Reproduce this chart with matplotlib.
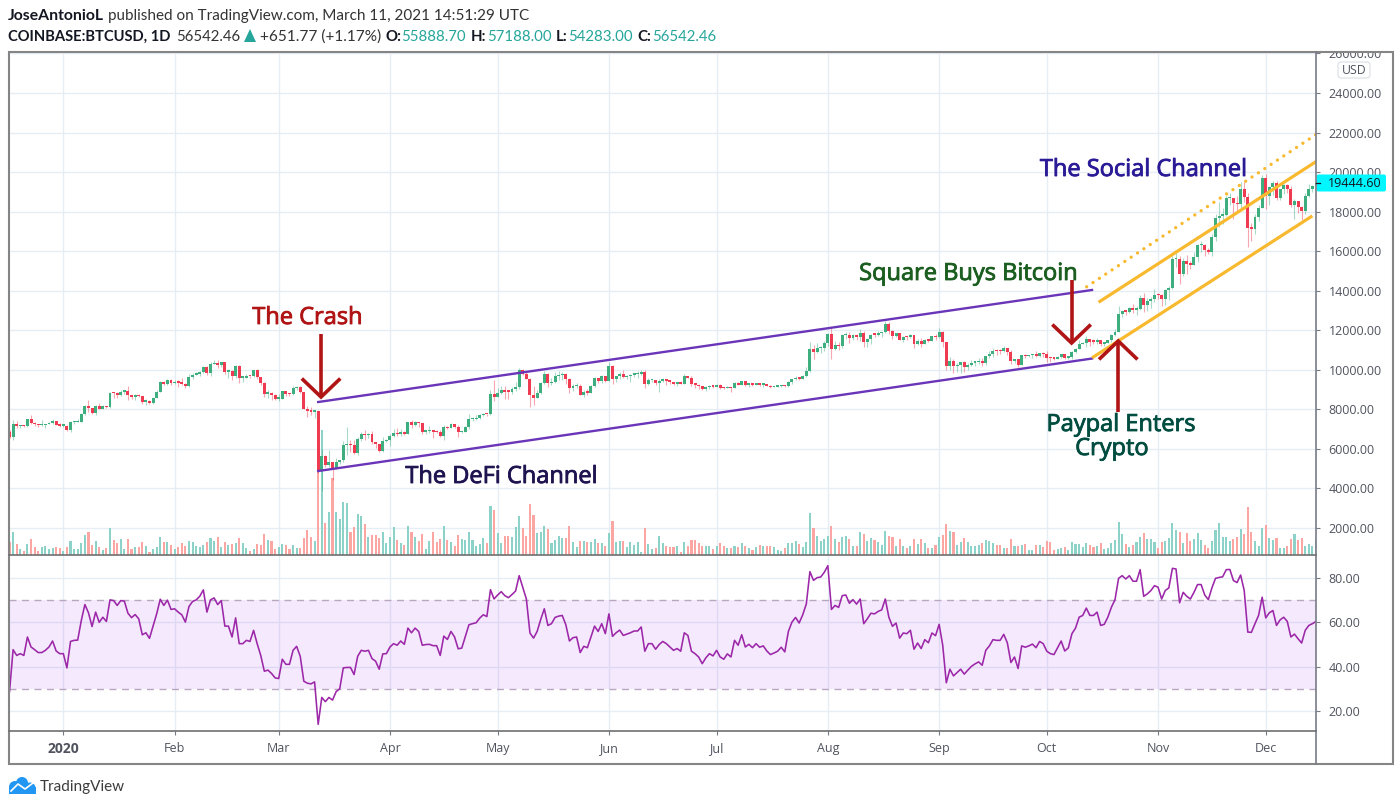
import matplotlib
matplotlib.use('Agg')
import matplotlib.pyplot as plt
import matplotlib.patheffects as pe
from matplotlib.patches import Rectangle, FancyBboxPatch, Circle, Polygon
import numpy as np

W, H = 1400, 807

# daily closes, 17 Dec 2019 to 15 Dec 2020
first_open = 6870
closes = [
    6610, 7280, 7150, 7190, 7145, 7510, 7320, 7255, 7195, 7200, 7250, 7310, 7385, 7220, 7170,
    7175, 6950, 7340, 7355, 7355, 7760, 8155, 8045, 7815, 8190, 8020, 8180, 8110, 8815, 8810, 8715, 8900, 8910, 8700, 8630, 8725, 8660, 8385, 8435, 8330, 8595, 8895, 9390, 9285, 9500, 9330,
    9375, 9335, 9290, 9185, 9615, 9760, 9805, 9905, 10165, 9855, 10275, 10355, 10240, 10370, 9900, 9915, 9705, 10180, 9600, 9610, 9690, 9665, 9965, 9660, 9310, 8785, 8825, 8720, 8525,
    8525, 8910, 8760, 8755, 9065, 9155, 8900, 8035, 7935, 7890, 7935, 4860, 5625, 5170, 5350, 5030, 5330, 5415, 6190, 6190, 6185, 5815, 6480, 6770, 6690, 6760, 6370, 6250, 5880, 6395, 6430,
    6650, 6805, 6735, 6860, 6770, 7340, 7200, 7370, 7295, 6865, 6890, 6910, 6855, 6845, 6630, 7115, 7040, 7260, 7130, 6840, 6860, 7130, 7490, 7510, 7540, 7700, 7775, 7740, 8775, 8625,
    8830, 8970, 8895, 8890, 9030, 9155, 9985, 9810, 9540, 8725, 8565, 8820, 9310, 9795, 9315, 9380, 9670, 9730, 9775, 9515, 9060, 9170, 9180, 8735, 8895, 8840, 9205, 9575, 9430, 9700, 9450,
    10200, 9520, 9665, 9790, 9615, 9670, 9750, 9780, 9785, 9890, 9275, 9465, 9475, 9330, 9430, 9525, 9455, 9385, 9300, 9355, 9295, 9685, 9610, 9290, 9245, 9160, 9010, 9115, 9185, 9135,
    9235, 9090, 9060, 9135, 9070, 9345, 9250, 9430, 9235, 9285, 9235, 9305, 9240, 9255, 9195, 9130, 9155, 9175, 9210, 9160, 9390, 9525, 9610, 9550, 9710, 9935, 11030, 10910, 11100, 11110, 11350,
    11810, 11065, 11230, 11190, 11745, 11770, 11600, 11760, 11680, 11880, 11395, 11565, 11785, 11770, 11860, 11915, 12300, 11960, 11730, 11860, 11525, 11680, 11650, 11755, 11330, 11465, 11325, 11530, 11475, 11710, 11655,
    11925, 11390, 10170, 10470, 10170, 10255, 10370, 10130, 10225, 10345, 10395, 10445, 10325, 10680, 10790, 10975, 10945, 10935, 11085, 10920, 10420, 10535, 10240, 10735, 10690, 10730, 10775, 10690, 10840, 10780,
    10620, 10575, 10550, 10670, 10790, 10600, 10670, 10925, 11055, 11295, 11380, 11540, 11430, 11425, 11505, 11325, 11370, 11515, 11750, 11910, 12820, 12985, 12935, 13115, 13030, 13070, 13650, 13280, 13460, 13565, 13805,
    13760, 13565, 14030, 14150, 15590, 15590, 14840, 15480, 15335, 15310, 15700, 16300, 16335, 16070, 15960, 16725, 17680, 17800, 17815, 18680, 18710, 18420, 18370, 19160, 18730, 17150, 17140, 17720, 18180, 19700,
    18770, 19225, 19445, 18700, 19150, 19360, 19170, 18325, 18550, 18250, 18035, 18810, 19170, 19275, 19444.6,
]
highs = [
    6940, 7440, 7390, 7230, 7190, 7530, 7700, 7340, 7270, 7450, 7270, 7370, 7520, 7390, 7320,
    7250, 7210, 7410, 7400, 7500, 7790, 8210, 8460, 8030, 8200, 8300, 8200, 8190, 8890, 8900, 8890, 9000, 8990, 9200, 8740, 8770, 8790, 8670, 8520, 8460, 8600, 8980, 9420, 9430, 9550, 9520,
    9460, 9465, 9600, 9340, 9780, 9850, 9870, 9950, 10170, 10200, 10385, 10490, 10520, 10390, 10400, 10060, 9970, 10250, 10250, 9695, 9770, 9710, 9990, 10030, 9650, 9370, 9000, 8900, 8800,
    8770, 8920, 8900, 8850, 9170, 9175, 9190, 8900, 8180, 8130, 7990, 7970, 6000, 5680, 5930, 5350, 5550, 5450, 6400, 7090, 6440, 6450, 6620, 6830, 6960, 6800, 6890, 6310, 6265, 6625, 6520,
    6750, 7000, 7050, 6990, 6880, 7370, 7470, 7430, 7380, 7180, 6960, 7180, 6935, 6950, 6930, 7195, 7150, 7300, 7270, 7210, 6975, 7150, 7770, 7600, 7700, 7750, 7800, 7780, 8960, 9470,
    9080, 9180, 9200, 8960, 9110, 9400, 10075, 10040, 9920, 9580, 9160, 8970, 9390, 9940, 9840, 9580, 9900, 9950, 9900, 9840, 9570, 9260, 9310, 9300, 8980, 9010, 9220, 9620, 9600, 9740, 9700,
    10380, 10230, 9680, 9880, 9990, 9720, 9800, 9800, 9960, 9990, 9965, 9560, 9500, 9480, 9510, 9580, 9540, 9480, 9400, 9400, 9420, 9790, 9700, 9670, 9330, 9300, 9190, 9195, 9230, 9200,
    9290, 9260, 9120, 9200, 9150, 9380, 9375, 9450, 9445, 9320, 9300, 9340, 9340, 9280, 9250, 9210, 9190, 9190, 9230, 9200, 9430, 9545, 9680, 9650, 9730, 10125, 11430, 11250, 11350, 11180, 11450,
    11870, 12100, 11480, 11420, 11790, 11910, 11920, 11810, 11810, 12070, 11940, 11620, 11800, 11850, 11970, 11930, 12480, 12410, 12020, 11880, 11885, 11700, 11720, 11830, 11770, 11580, 11600, 11560, 11570, 11720, 11790,
    12090, 11950, 11420, 10630, 10560, 10350, 10400, 10470, 10350, 10480, 10400, 10580, 10580, 10690, 10950, 11100, 11040, 11050, 11180, 11060, 10980, 10570, 10530, 10770, 10790, 10770, 10790, 10950, 10870, 10880,
    10930, 10670, 10600, 10680, 10800, 10800, 10690, 10960, 11110, 11490, 11430, 11720, 11560, 11560, 11630, 11420, 11400, 11520, 11820, 12040, 13240, 13020, 13030, 13160, 13350, 13230, 13790, 13860, 13620, 13670, 14100,
    13890, 13830, 14070, 14240, 15740, 15970, 15770, 15650, 15830, 15480, 15970, 16340, 16490, 16370, 16160, 16880, 17860, 18480, 18180, 18800, 18960, 18690, 18780, 19490, 19480, 18930, 17450, 17900, 18350, 19860,
    19920, 19300, 19560, 19540, 19170, 19420, 19420, 19290, 18630, 18560, 18290, 18940, 19410, 19350, 19570,
]
lows = [
    6560, 6430, 7040, 7070, 7100, 7130, 7270, 7140, 7130, 7150, 7070, 7240, 7250, 7190, 7130,
    7130, 6900, 6860, 7260, 7340, 7350, 7725, 7880, 7750, 7700, 8000, 8010, 8060, 8090, 8590, 8590, 8670, 8800, 8480, 8530, 8480, 8600, 8280, 8230, 8280, 8270, 8580, 8870, 9230, 9220, 9220,
    9300, 9150, 9230, 9090, 9150, 9525, 9720, 9675, 9850, 9730, 9700, 10270, 10085, 10120, 9780, 9580, 9460, 9600, 9320, 9400, 9590, 9590, 9660, 9510, 9235, 8615, 8560, 8450, 8490,
    8420, 8500, 8650, 8650, 8750, 9000, 8850, 8000, 7630, 7700, 7570, 4780, 3860, 5090, 5100, 4440, 5000, 5250, 5330, 5700, 5860, 5750, 5690, 6380, 6440, 6525, 6250, 6020, 5860, 5860, 6330,
    6160, 6620, 6650, 6660, 6680, 6770, 7080, 7150, 7120, 6760, 6770, 6780, 6560, 6790, 6600, 6470, 7010, 7040, 7060, 6600, 6790, 6850, 7020, 7400, 7450, 7500, 7640, 7670, 7720, 8410,
    8620, 8770, 8540, 8530, 8760, 8930, 9040, 9720, 9520, 8110, 8200, 8560, 8790, 9260, 9130, 9220, 9340, 9470, 9470, 9300, 8810, 8930, 9100, 8700, 8640, 8700, 8820, 9110, 9340, 9350, 9370,
    9420, 9270, 9385, 9530, 9580, 9530, 9370, 9630, 9570, 9725, 9080, 9240, 9390, 9250, 8900, 9370, 9230, 9290, 9210, 9200, 9290, 9280, 9570, 9200, 9090, 9040, 8980, 8950, 9030, 9090,
    9110, 9040, 9040, 9060, 8900, 9060, 9215, 9230, 9200, 9130, 9200, 9220, 9200, 9105, 9180, 9080, 9120, 9130, 9130, 9150, 9150, 9300, 9470, 9460, 9540, 9650, 9890, 10570, 10850, 10860, 10970,
    11210, 10530, 11000, 11000, 11085, 11560, 11340, 11530, 11520, 11470, 11170, 11150, 11280, 11680, 11700, 11670, 11850, 11820, 11580, 11660, 11490, 11390, 11510, 11600, 11120, 11260, 11130, 11290, 11410, 11450, 11500,
    11600, 11150, 10000, 9975, 9820, 9880, 9850, 9880, 10000, 10200, 10210, 10270, 10210, 10240, 10600, 10670, 10750, 10790, 10900, 10750, 10280, 10360, 10130, 10220, 10580, 10650, 10600, 10640, 10650, 10660,
    10370, 10370, 10510, 10540, 10600, 10530, 10530, 10530, 10830, 11130, 11280, 11170, 11200, 11280, 11300, 11210, 11220, 11350, 11400, 11690, 11900, 12680, 12770, 12890, 12890, 12790, 13030, 12900, 12980, 13130, 13420,
    13600, 13210, 13280, 13530, 14090, 15180, 14350, 14720, 14850, 15090, 15280, 15450, 15970, 15770, 15880, 15780, 16520, 17220, 17350, 17760, 18350, 17650, 18000, 18090, 18500, 16200, 16500, 16880, 17540, 18170,
    18110, 18330, 18860, 18570, 18590, 18900, 18920, 18210, 17650, 17910, 17600, 17900, 18720, 19000, 19060,
]
volumes = [
    13, 23, 11, 6, 4, 11, 16, 8, 4, 8, 9, 6, 7, 8, 7, 4, 8, 14, 6, 6, 12, 20, 23, 10, 14, 8, 5, 7, 27, 15,
    12, 16, 6, 16, 6, 8, 8, 13, 9, 3, 6, 8, 18, 13, 13, 10, 6, 8, 12, 9, 14, 13, 9, 8, 10, 13, 17, 14, 18, 8,
    13, 10, 11, 12, 17, 12, 7, 4, 6, 11, 10, 21, 15, 14, 6, 8, 11, 10, 6, 10, 7, 7, 17, 25, 18, 14, 85, 125, 32, 43,
    77, 43, 36, 53, 52, 23, 28, 41, 39, 31, 18, 20, 20, 17, 23, 12, 18, 28, 15,
    12, 10, 29, 23, 18, 14, 21, 6, 14, 23, 13, 16, 29, 15, 13, 9, 20, 16, 15, 23, 15, 9, 11, 17, 12, 49, 45, 22, 12, 19,
    19, 18, 28, 39, 27, 19, 51, 40, 22, 23, 29, 26, 12, 15, 19, 17, 17, 29, 13, 8, 14, 14, 13, 13, 16, 12, 12, 9, 22, 34,
    13, 14, 14, 8, 13, 10, 13, 3, 27, 11, 6, 7, 19, 12, 9, 8, 8, 9, 3, 13, 9, 15, 15, 12, 9, 9, 9, 6, 9, 12,
    9, 7, 7, 9, 8, 12, 9, 7, 5, 8, 10, 9, 9, 9, 8, 5, 4, 7, 12, 12, 14, 11, 8, 13, 42, 27, 19, 14, 16, 19, 29, 16, 13, 18, 19, 16,
    9, 9, 23, 21, 14, 17, 15, 13, 10, 24, 19, 18, 9, 16, 9, 7, 9, 16, 11, 16, 12, 7, 7, 10, 18, 20, 31, 24, 23, 10,
    13, 17, 13, 9, 9, 10, 12, 15, 14, 12, 10, 10, 7, 7, 16, 9, 9, 10, 11, 5, 5, 10, 10, 8, 14, 13, 5, 6, 7, 8,
    5, 13, 11, 11, 8, 12, 10, 8, 9, 12, 6, 7, 12, 15, 33,
    21, 11, 8, 10, 13, 18, 22, 16, 16, 13, 7, 13, 14, 17, 32, 25, 23, 12, 22, 14, 16, 22, 15, 10, 7, 14, 25, 32, 18, 18,
    14, 16, 18, 26, 21, 48, 23, 14, 9, 27, 30, 17, 15, 17, 7, 7, 9, 16, 21, 15, 17, 9, 11, 9, 16,
]
rsi = [
    28.7, 47.6, 45, 45.8, 45, 53.3, 48.8, 47.6, 46.3, 46.3, 47.3, 48.8, 51.5, 47, 45.8, 45.8, 39.4, 51.3, 51.8, 51.9,
    60.7, 67.9, 64.2, 58, 64.5, 59.9, 62.2, 60.3, 70, 69.7, 67.5, 69.7, 69.4, 64, 62, 63.4, 61.5, 54.3, 55.2, 52.7,
    58.2, 63.7, 70.3, 67.5, 69.9, 65.7, 66, 64.5, 63.3, 60, 67, 69.3, 70, 71.6, 74.5, 64.5, 70, 70.9, 67.9, 69.7,
    58.2, 58.2, 53.3, 61.9, 50.3, 50.3, 51.8, 51.3, 56.3, 50.3, 45, 37.9, 38.4, 36.9, 34.9, 34.6, 43.3, 41, 41, 47.3,
    49.1, 44.6, 33.4, 32.5, 32.2, 33.1, 14, 26.1, 24.2, 26.1, 24.9, 28.7, 30, 39.4, 39.6, 39.6, 36.4, 44.6, 47.3, 46.9,
    47.3, 43.6, 42.4, 38.8, 45.7, 45.8, 48.8, 50.3, 49.6, 51.5, 50, 57.3, 55.2, 57.3, 55.8, 49.6, 49.9, 50, 49.4, 49.4,
    45, 53.7, 52.2, 55.8, 53.3, 48, 48.3, 53.6, 58.8, 59.3, 59.7, 61.8, 63.3, 62.5, 74.6, 70.4, 72.2, 73.7, 71.9, 71,
    72.4, 74, 80.9, 75.7, 70.4, 55.1, 52.8, 55.8, 61.2, 66, 58.5, 59.3, 62.1, 62.7, 63, 58.8, 51.5, 53, 53.3, 46.3,
    49.1, 48.5, 53.3, 58.2, 55.8, 59.3, 54.8, 63.7, 53.6, 55.2, 56.4, 54, 54.6, 55.2, 56, 56, 57.8, 46.9, 50.3, 50.3,
    47.8, 49.9, 51.3, 50.3, 48.8, 47.3, 48.1, 46.9, 55.2, 54, 46.9, 45.8, 44.3, 41.3, 43.9, 45.8, 44.8, 47.3, 44.3, 43.3,
    45.7, 44.3, 51.8, 49.6, 54.3, 48.8, 50, 48.5, 50.3, 48.7, 49.3, 47, 45.4, 46.1, 46.9, 48.7, 46.6, 55.8, 60, 62.1,
    59.6, 63.3, 68.2, 82.7, 78.8, 80, 80.3, 82.4, 85.4, 65.7, 67.5, 66.6, 71.9, 72.2, 68.5, 70.1, 68.1, 70.4, 59.3, 61.5,
    64, 63.7, 64.8, 65.5, 70.4, 62.2, 58.1, 59.6, 52.8, 55.1, 54.8, 56.3, 47.8, 50.6, 48.1, 52.1, 50.7, 55.1, 53.9, 59,
    49.6, 32.7, 38.8, 35.8, 37.3, 38.8, 36.6, 38.4, 40.1, 41.2, 42.1, 40.6, 47.3, 49.3, 52.1, 51.8, 51.8, 54.5, 50.7, 41.8,
    44.3, 39.1, 49.3, 48.7, 49.3, 50.1, 48.5, 51.3, 50.3, 46.9, 45.8, 45.4, 48.4, 51.5, 47, 48.4, 54.8, 57.3, 62.2, 63,
    66.3, 63, 63, 64.5, 58.5, 59, 62.2, 66.7, 70.1, 79.7, 80.9, 79.4, 80.9, 78.4, 78.4, 83.6, 71.6, 72.7, 74.2, 76.4,
    75.7, 70.4, 74.2, 75.4, 84.2, 83.9, 68.7, 73.4, 71.6, 70.4, 73.4, 76.9, 76.9, 72.2, 70.1, 75.4, 79.7, 80.1, 80.4, 83.6,
    83.7, 78.7, 77.8, 81.2, 74.2, 55.5, 55.4, 59.3, 63, 71.2, 61.9, 64.2, 65.2, 58.5, 61, 62.2, 60.3, 53.3, 54.6, 52.5,
    50.6, 56.3, 58.5, 59.3, 60.3,
]

# trend lines, (bar number, price) at both ends
defi_upper = ([86, 301.6], [8370, 14037])
defi_lower = ([86, 301.6], [4880, 10570])
social_upper = ([303.8, 364], [13460, 20530])
social_lower = ([302, 362.6], [10650, 17740])
social_dotted = ([300.1, 364], [14200, 21900])

month_ticks = [15, 46, 75, 106, 136, 167, 197, 228, 259, 289, 320, 350]
month_labels = ['2020', 'Feb', 'Mar', 'Apr', 'May', 'Jun', 'Jul', 'Aug', 'Sep', 'Oct', 'Nov', 'Dec']
price_ticks = list(range(2000, 26001, 2000))
rsi_ticks = [20, 40, 60, 80]

UP, DOWN = '#3fae7f', '#ee3b52'
UP_VOL, DOWN_VOL = '#8dd2c8', '#fca6a3'
GRID = '#e6eef5'
AXIS = '#787b86'
LABEL = '#50535e'
ARROW = '#b01414'
ORANGE = '#f9b92e'
PURPLE = '#6a35b8'
TICK_FONT = 'Open Sans'

plt.rcParams['font.family'] = TICK_FONT

fig = plt.figure(figsize=(W / 100, H / 100), dpi=100)


def pane(left, top, right, bottom):
    return fig.add_axes([left / W, 1 - bottom / H, (right - left) / W, (bottom - top) / H])


ax = pane(9, 53, 1316, 555)
ax_rsi = pane(9, 555, 1316, 731)

x = np.arange(len(closes))
closes = np.array(closes, dtype=float)
opens = np.r_[first_open, closes[:-1]]
highs = np.maximum(np.array(highs, dtype=float), np.maximum(opens, closes))
lows = np.minimum(np.array(lows, dtype=float), np.minimum(opens, closes))
up = closes >= opens

PRICE_LOW, PRICE_HIGH = 632, 26024
# volume units are one pixel tall on this pane
vol_scale = (PRICE_HIGH - PRICE_LOW) / 502
vol = np.array(volumes, dtype=float) * vol_scale

ax.bar(x, vol, bottom=PRICE_LOW, width=0.58, color=[UP_VOL if u else DOWN_VOL for u in up], zorder=1, linewidth=0)
ax.vlines(x, lows, highs, colors=[UP if u else DOWN for u in up], linewidth=0.8, alpha=0.45, zorder=2)
ax.bar(x, np.maximum(np.abs(closes - opens), 75), bottom=np.minimum(opens, closes), width=0.82,
       color=[UP if u else DOWN for u in up], zorder=3, linewidth=0)

ax.plot(*defi_upper, color=PURPLE, lw=1.7, zorder=4)
ax.plot(*defi_lower, color=PURPLE, lw=1.7, zorder=4)
ax.plot(*social_upper, color=ORANGE, lw=2.3, zorder=4)
ax.plot(*social_lower, color=ORANGE, lw=2.3, zorder=4)
ax.plot(*social_dotted, color=ORANGE, lw=2.4, ls=(0, (0.01, 2.28)), dash_capstyle='round', zorder=4)


def draw_arrow(bar, tip, tail):
    head = 870 if tail > tip else -870
    ax.plot([bar, bar], [tip, tail], color=ARROW, lw=2.6, zorder=5, solid_capstyle='butt')
    ax.plot([bar - 5, bar, bar + 5], [tip + head, tip, tip + head], color=ARROW, lw=2.6, zorder=5,
            solid_joinstyle='miter')


draw_arrow(86.8, 8624, 11811)
draw_arrow(295.9, 11356, 14542)
draw_arrow(308.9, 11457, 7866)

ax.set_xlim(-0.14, 364)
ax.set_ylim(PRICE_LOW, PRICE_HIGH)
ax.set_yticks(price_ticks)
ax.set_yticklabels(['%.2f' % p for p in price_ticks])
ax.set_xticks(month_ticks)
ax.tick_params(axis='x', length=0, labelbottom=False)

ax_rsi.axhspan(30, 70, color='#8705eb', alpha=0.085, lw=0, zorder=1)
ax_rsi.axhline(70, color='#b9a7bf', lw=1, ls=(0, (5, 4)), zorder=2)
ax_rsi.axhline(30, color='#b9a7bf', lw=1, ls=(0, (5, 4)), zorder=2)
ax_rsi.plot(x, rsi, color='#9c27a8', lw=1.15, zorder=3)
ax_rsi.set_xlim(-0.14, 364)
ax_rsi.set_ylim(11, 90.2)
ax_rsi.set_yticks(rsi_ticks)
ax_rsi.set_yticklabels(['%.2f' % v for v in rsi_ticks])
ax_rsi.set_xticks(month_ticks)
ax_rsi.set_xticklabels(month_labels)
ax_rsi.tick_params(axis='x', length=3, width=0.8, color=AXIS, labelcolor=LABEL, labelsize=9, pad=5)
ax_rsi.get_xticklabels()[0].set_fontweight('bold')
ax_rsi.get_xticklabels()[0].set_fontsize(10)

for a in (ax, ax_rsi):
    a.set_axisbelow(True)
    a.grid(True, color=GRID, lw=1)
    a.yaxis.tick_right()
    a.tick_params(axis='y', length=3, width=0.8, color=AXIS, labelcolor=LABEL, labelsize=9, pad=6)
    for s in a.spines.values():
        s.set_visible(False)

# overlay in picture pixels for the frame, header and notes
ov = fig.add_axes([0, 0, 1, 1], zorder=10)
ov.set_xlim(0, W)
ov.set_ylim(H, 0)
ov.axis('off')
ov.patch.set_alpha(0)

ov.add_patch(Rectangle((0, 0), W, 52, color='white', lw=0))
ov.add_patch(Rectangle((8.5, 52), 1384, 712, fill=False, ec='#858585', lw=1.5))
ov.plot([1316, 1316], [52, 764], color=AXIS, lw=1.2)
ov.plot([9, 1316], [555, 555], color='#6f6f6f', lw=1.2)
ov.plot([9, 1316], [731, 731], color='#6f6f6f', lw=1.2)

ov.add_patch(FancyBboxPatch((1338, 62), 32, 16, boxstyle='round,pad=0,rounding_size=3', fc='white', ec='#dfe1e6', lw=0.9))
ov.text(1354, 70, 'USD', color=LABEL, fontsize=8.8, ha='center', va='center')

ov.add_patch(FancyBboxPatch((1316.5, 174.5), 69.5, 17, boxstyle='round,pad=0,rounding_size=2', fc='#00f7ff', ec='none'))
ov.plot([1316, 1320], [183, 183], color='#131722', lw=0.9)
ov.text(1328, 183.5, '19444.60', color='#131722', fontsize=9, va='center')

HEAD = 'Lato'
ov.text(8, 16, 'JoseAntonioL', family=HEAD, fontsize=11.3, fontweight='bold', color='#131722', va='center')
ov.text(107.5, 16, 'published on TradingView.com, March 11, 2021 14:51:29 UTC', family=HEAD, fontsize=10.95, color='#333333', va='center')
ov.text(8, 37, 'COINBASE:BTCUSD, 1D', family=HEAD, fontsize=10.65, fontweight='bold', color='#131722', va='center')
ov.text(176, 37, '56542.46', family=HEAD, fontsize=10.8, color='#333333', va='center')
ov.add_patch(Polygon([[244, 42], [256, 42], [250, 29]], color='#26a69a', lw=0))
ov.text(260, 37, '+651.77 (+1.17%)', family=HEAD, fontsize=11.1, color='#333333', va='center')
ohlc_labels = [(385, 'O:', 401, '55888.70'), (471, 'H:', 487, '57188.00'), (556, 'L:', 568, '54283.00'), (637, 'C:', 652, '56542.46')]
for lx, lab, vx, val in ohlc_labels:
    ov.text(lx, 37, lab, family=HEAD, fontsize=10.8, fontweight='bold', color='#131722', va='center')
    ov.text(vx, 37, val, family=HEAD, fontsize=10.8, color='#26a69a', va='center')

NOTE = 17
notes = [
    (307.5, 318, 'The Crash', '#b01414'),
    (501.5, 477, 'The DeFi Channel', '#1f1450'),
    (1143.5, 170, 'The Social Channel', '#2a1a96'),
    (968.5, 274, 'Square Buys Bitcoin', '#1b5e20'),
    (1121, 425, 'Paypal Enters', '#004d40'),
    (1112, 449, 'Crypto', '#004d40'),
]
for nx, ny, label, colour in notes:
    t = ov.text(nx, ny, label, color=colour, fontsize=NOTE, ha='center', va='center')
    t.set_path_effects([pe.withStroke(linewidth=0.6, foreground=colour)])

# TradingView logo
for cx, cy, r in [(15, 787, 6), (22, 783, 6), (30, 788, 5.5)]:
    ov.add_patch(Circle((cx, cy), r, color='#2196f3', lw=0))
ov.add_patch(Rectangle((9, 787), 27, 7, color='#2196f3', lw=0))
ov.plot([11, 18, 25, 33], [791, 784, 789, 783], color='white', lw=1.2)
ov.text(40, 786.5, 'TradingView', family=HEAD, fontsize=11, color='#3c3c3c', va='center')

fig.savefig('out.png', dpi=100)
